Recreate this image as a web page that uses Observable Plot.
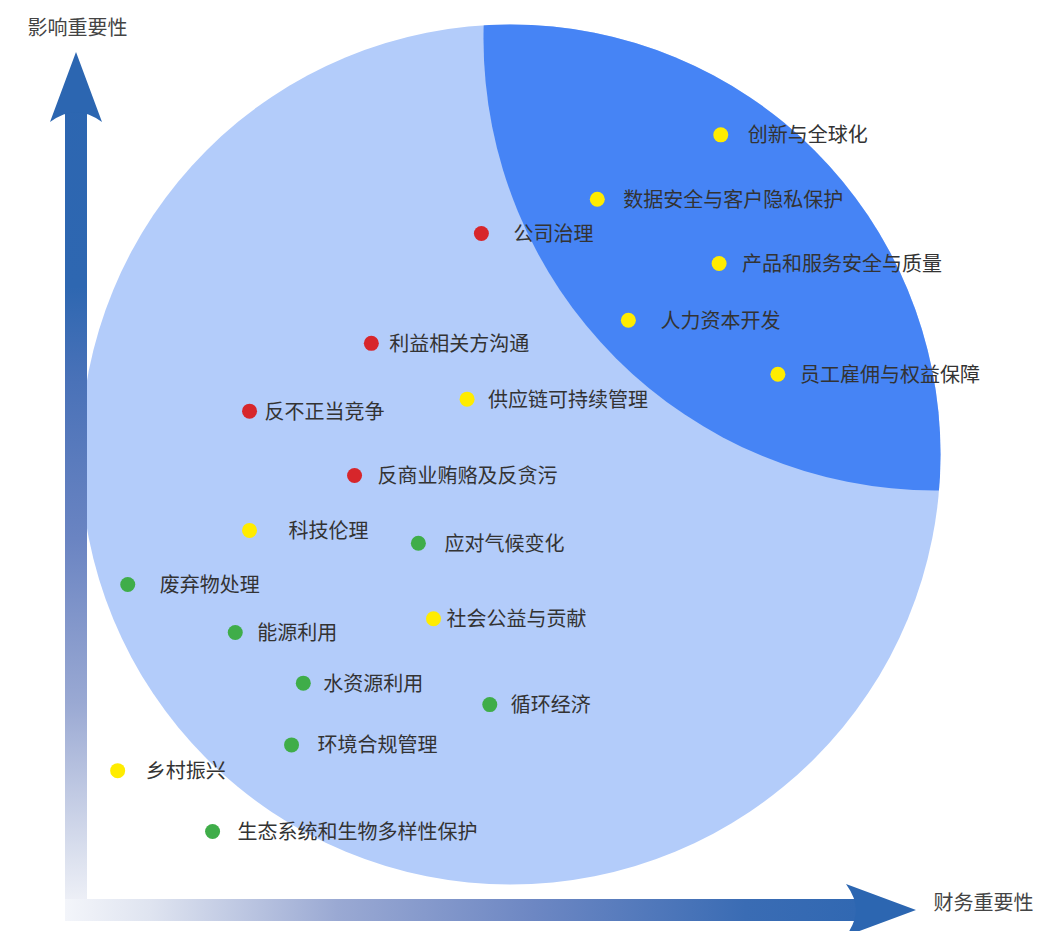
<!DOCTYPE html>
<html>
<head>
<meta charset="utf-8">
<script src="https://cdn.jsdelivr.net/npm/d3@7"></script>
<script src="https://cdn.jsdelivr.net/npm/@observablehq/plot@0.6"></script>
<style>
  html, body { margin: 0; padding: 0; background: #fff; overflow: hidden; }
  svg { display: block; }
</style>
</head>
<body>
<div id="chart"></div>
<script>
// ---- data ----
const topics = [
  "创新与全球化", "数据安全与客户隐私保护", "公司治理", "产品和服务安全与质量",
  "人力资本开发", "利益相关方沟通", "员工雇佣与权益保障", "供应链可持续管理",
  "反不正当竞争", "反商业贿赂及反贪污", "科技伦理", "应对气候变化",
  "废弃物处理", "社会公益与贡献", "能源利用", "水资源利用",
  "循环经济", "环境合规管理", "乡村振兴", "生态系统和生物多样性保护"
];
const financial = [7.67, 6.20, 4.82, 7.65, 6.57, 3.51, 8.35, 4.65, 2.06, 3.31, 2.06, 4.07, 0.61, 4.25, 1.89, 2.70, 4.92, 2.56, 0.49, 1.62];
const impact    = [9.04, 8.29, 7.89, 7.54, 6.88, 6.61, 6.25, 5.96, 5.82, 5.07, 4.43, 4.28, 3.80, 3.40, 3.24, 2.65, 2.40, 1.93, 1.63, 0.92];
const dimension = ["S", "S", "G", "S", "S", "G", "S", "S", "G", "G", "S", "E", "E", "S", "E", "E", "E", "E", "S", "E"];
const labelGap  = [27, 26, 32, 23, 32, 18, 22, 21, 15, 23, 39, 26, 32, 13, 22, 20, 21, 26, 28, 25];
const xAxisLabel = "财务重要性";
const yAxisLabel = "影响重要性";

// ---- styling / layout ----
const dimensionColors = { G: "#d7262b", S: "#ffec00", E: "#3fad49" };
const baseZone  = { x: 5.167, y: 5.315, r: 430, fill: "#b3ccfa" };
const focusZone = { x: 10.226, y: 10.163, r: 452, fill: "#4684f5" };
const arrowColor = "#2c66b1";

const data = topics.map((t, i) => ({ topic: t, x: financial[i], y: impact[i], dim: dimension[i], gap: labelGap[i] }));

// defs: clip to the base circle + arrow gradients
const defsMark = (index, { x, y }) => {
  const defs = d3.create("svg:defs");
  defs.append("clipPath").attr("id", "baseClip").attr("clipPathUnits", "userSpaceOnUse")
    .append("circle").attr("cx", x(baseZone.x)).attr("cy", y(baseZone.y)).attr("r", baseZone.r);
  const gv = defs.append("linearGradient").attr("id", "gradV").attr("gradientUnits", "userSpaceOnUse")
    .attr("x1", 0).attr("x2", 0).attr("y1", y(0) + 11).attr("y2", y(10));
  [[0, "#f5f6fa"], [0.07, "#dde2ef"], [0.25, "#9aa9d3"], [0.44, "#6a84c2"], [0.62, "#4a72b8"], [0.73, "#2e67b1"], [1, arrowColor]]
    .forEach(([o, c]) => gv.append("stop").attr("offset", o).attr("stop-color", c));
  const gh = defs.append("linearGradient").attr("id", "gradH").attr("gradientUnits", "userSpaceOnUse")
    .attr("y1", 0).attr("y2", 0).attr("x1", x(0) - 11).attr("x2", x(10));
  [[0, "#f3f5fa"], [0.1, "#dfe4f0"], [0.32, "#9aa9d3"], [0.55, "#6d87c3"], [0.8, "#3a6cb4"], [1, arrowColor]]
    .forEach(([o, c]) => gh.append("stop").attr("offset", o).attr("stop-color", c));
  return defs.node();
};

// gradient arrows along the two axes
const arrowsMark = (index, { x, y }) => {
  const g = d3.create("svg:g");
  const x0 = x(0), y0 = y(0), xt = x(10), yt = y(10);
  const hw = 11, headW = 26, headL = 70, notch = 10;
  g.append("rect").attr("x", x0 - hw).attr("y", yt + headL - notch).attr("width", 2 * hw)
    .attr("height", y0 + hw - (yt + headL - notch)).attr("fill", "url(#gradV)");
  g.append("rect").attr("x", x0 - hw).attr("y", y0 - hw).attr("width", xt - headL + notch - (x0 - hw))
    .attr("height", 2 * hw).attr("fill", "url(#gradH)");
  g.append("path").attr("fill", arrowColor).attr("d",
    `M${x0},${yt} L${x0 + headW},${yt + headL} Q${x0 + 12},${yt + headL - notch} ${x0},${yt + headL - notch} ` +
    `Q${x0 - 12},${yt + headL - notch} ${x0 - headW},${yt + headL} Z`);
  g.append("path").attr("fill", arrowColor).attr("d",
    `M${xt},${y0} L${xt - headL},${y0 - headW} Q${xt - headL + notch},${y0 - 12} ${xt - headL + notch},${y0} ` +
    `Q${xt - headL + notch},${y0 + 12} ${xt - headL},${y0 + headW} Z`);
  return g.node();
};

const fontFamily = '"Noto Sans CJK SC", "Noto Sans", sans-serif';

const plot = Plot.plot({
  width: 1064,
  height: 931,
  marginLeft: 76, marginRight: 148, marginTop: 52, marginBottom: 21,
  x: { domain: [0, 10], axis: null },
  y: { domain: [0, 10], axis: null },
  style: { fontFamily, background: "#fff", overflow: "visible" },
  marks: [
    defsMark,
    Plot.dot([baseZone], { x: "x", y: "y", r: baseZone.r, fill: baseZone.fill }),
    Plot.dot([focusZone], { x: "x", y: "y", r: focusZone.r, fill: focusZone.fill, ariaLabel: () => "focus-zone" }),
    arrowsMark,
    Plot.dot(data, { x: "x", y: "y", r: 7.5, fill: d => dimensionColors[d.dim] }),
    ...data.map(d => Plot.text([d], {
      x: "x", y: "y", text: "topic", dx: d.gap, dy: 1, textAnchor: "start",
      fontSize: 20, fill: "#333", fontFamily
    })),
    Plot.text([yAxisLabel], { frameAnchor: "top-left", text: d => d, dx: -49, dy: -32, textAnchor: "start", fontSize: 20, fill: "#444" }),
    Plot.text([xAxisLabel], { frameAnchor: "bottom-right", text: d => d, dx: 17, dy: -1, textAnchor: "start", fontSize: 20, fill: "#444" })
  ]
});

const focusEl = d3.select(plot).select('circle[aria-label="focus-zone"]');
if (!focusEl.empty()) focusEl.attr("clip-path", "url(#baseClip)");
else {
  // fallback: clip the group that holds the focus circle (second dot mark)
  d3.select(plot).selectAll('g[aria-label="dot"]').filter((d, i) => i === 1).attr("clip-path", "url(#baseClip)");
}
document.getElementById("chart").appendChild(plot);
</script>
</body>
</html>
